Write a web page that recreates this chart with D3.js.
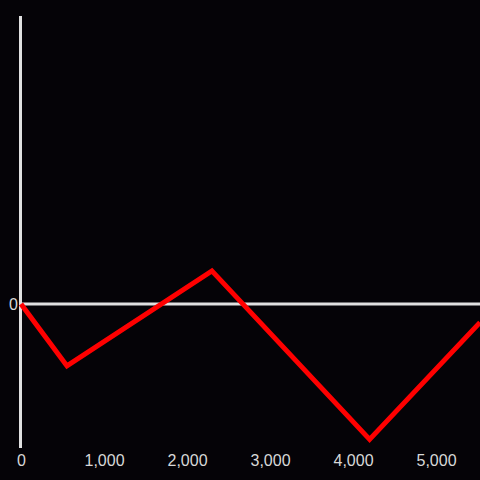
<!DOCTYPE html>
<html>
<head>
<meta charset="utf-8">
<script src="https://cdn.jsdelivr.net/npm/d3@7"></script>
<style>
  html, body { margin: 0; padding: 0; background: #050307; }
  svg { display: block; }
</style>
</head>
<body>
<svg id="chart" width="480" height="480"></svg>
<script>
const xValues = [0, 554, 2300, 4200, 5530];
const yValues = [0, -21.5, 11.5, -47, -6.4];
const xTicks = [0, 1000, 2000, 3000, 4000, 5000];
const yTicks = [0];

const width = 480, height = 480;
const svg = d3.select('#chart');

const x = d3.scaleLinear([0, 5530], [21, 480]);
const y = d3.scaleLinear([-50, 100], [448, 16]);

svg.append('rect')
  .attr('width', width)
  .attr('height', height)
  .attr('fill', '#050307');

// zero line
svg.append('line')
  .attr('x1', x(0))
  .attr('x2', width)
  .attr('y1', y(0))
  .attr('y2', y(0))
  .attr('stroke', '#e0e0e0')
  .attr('stroke-width', 3);

// y axis line
svg.append('line')
  .attr('x1', x(0) - 0.5)
  .attr('x2', x(0) - 0.5)
  .attr('y1', y.range()[1])
  .attr('y2', y.range()[0])
  .attr('stroke', '#e0e0e0')
  .attr('stroke-width', 3);

const xAxis = d3.axisBottom(x)
  .tickValues(xTicks)
  .tickFormat(d3.format(','))
  .tickSize(0)
  .tickPadding(0);

svg.append('g')
  .attr('transform', `translate(0, 466)`)
  .call(xAxis)
  .call(g => g.select('.domain').remove())
  .call(g => g.selectAll('text')
    .attr('fill', '#d8d8d8')
    .attr('font-family', 'Liberation Sans, Arial, sans-serif')
    .attr('font-size', 16)
    .attr('dy', 0));

const yAxis = d3.axisLeft(y)
  .tickValues(yTicks)
  .tickSize(0)
  .tickPadding(3);

svg.append('g')
  .attr('transform', `translate(${x(0)}, 0)`)
  .call(yAxis)
  .call(g => g.select('.domain').remove())
  .call(g => g.selectAll('text')
    .attr('fill', '#d8d8d8')
    .attr('font-family', 'Liberation Sans, Arial, sans-serif')
    .attr('font-size', 16));

const line = d3.line()
  .x(d => x(d[0]))
  .y(d => y(d[1]));

svg.append('path')
  .attr('d', line(xValues.map((d, i) => [d, yValues[i]])))
  .attr('fill', 'none')
  .attr('stroke', '#ff0000')
  .attr('stroke-width', 5)
  .attr('stroke-linejoin', 'miter');
</script>
</body>
</html>
